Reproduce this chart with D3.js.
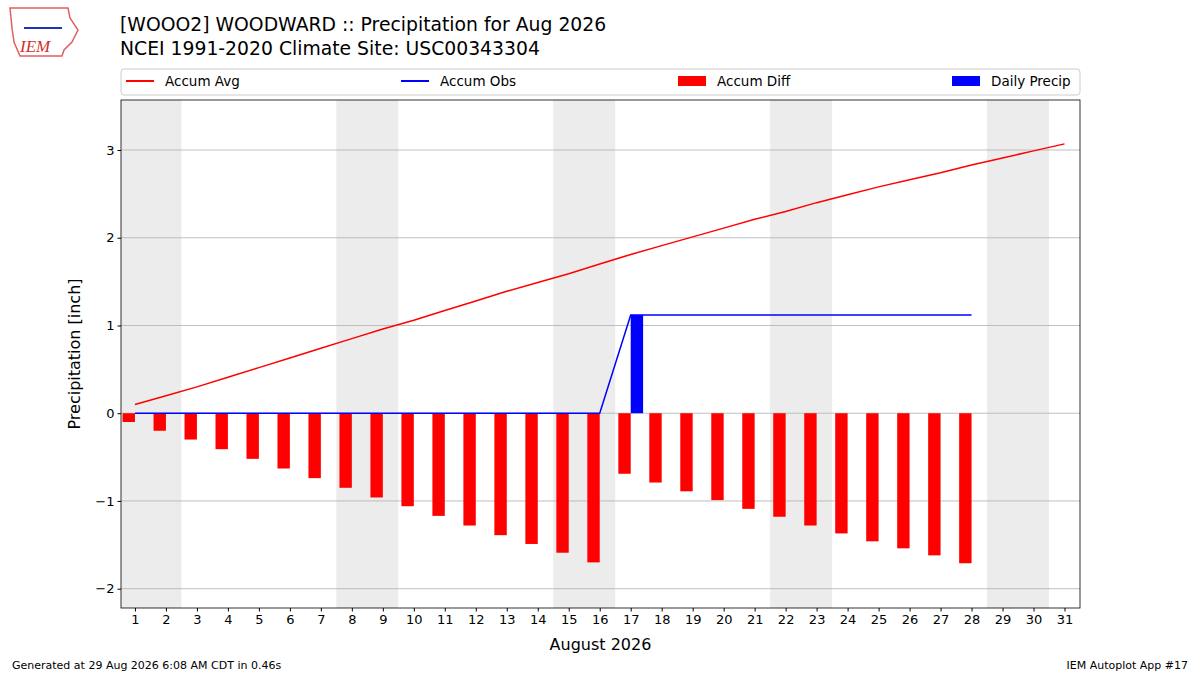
<!DOCTYPE html>
<html><head><meta charset="utf-8">
<script src="https://cdn.jsdelivr.net/npm/d3@7"></script>
<style>body{margin:0;background:#fff}svg{font-family:"DejaVu Sans",sans-serif}</style>
</head><body><svg id="c" width="1200" height="675"></svg>
<script>
const days = d3.range(1,32);
const accumAvg = [0.10,0.20,0.30,0.41,0.52,0.63,0.74,0.85,0.96,1.06,1.17,1.28,1.39,1.49,1.59,1.70,1.81,1.91,2.01,2.11,2.21,2.30,2.40,2.49,2.58,2.66,2.74,2.83,2.91,2.99,3.07];
const accumObs = [0,0,0,0,0,0,0,0,0,0,0,0,0,0,0,0,1.12,1.12,1.12,1.12,1.12,1.12,1.12,1.12,1.12,1.12,1.12,1.12];
const dailyPrecip = [0,0,0,0,0,0,0,0,0,0,0,0,0,0,0,0,1.12,0,0,0,0,0,0,0,0,0,0,0];
const weekends = [[1,2],[8,9],[15,16],[22,23],[29,30]];
const yTicks = [-2,-1,0,1,2,3];

const svg = d3.select("#c");
const L=121,R=1080,T=100,B=608;
const x = d3.scaleLinear().domain([0.55,31.5]).range([L,R]);
const y = d3.scaleLinear().domain([-2.22,3.57]).range([B,T]);
svg.append("defs").append("clipPath").attr("id","cp").append("rect").attr("x",L).attr("y",T).attr("width",R-L).attr("height",B-T);
const g = svg.append("g").attr("clip-path","url(#cp)");
weekends.forEach(w=>g.append("rect").attr("x",x(w[0]-0.5)).attr("y",T).attr("width",x(w[1]+0.5)-x(w[0]-0.5)).attr("height",B-T).attr("fill","#ececec"));
yTicks.forEach(t=>g.append("line").attr("x1",L).attr("x2",R).attr("y1",y(t)).attr("y2",y(t)).attr("stroke","#b0b0b0").attr("stroke-width",0.8));
const bw = x(0.4)-x(0);
accumObs.forEach((o,i)=>{const d=o-accumAvg[i];
  g.append("rect").attr("x",x(i+1)-bw).attr("width",bw).attr("y",y(Math.max(0,d))).attr("height",Math.abs(y(d)-y(0))).attr("fill","red");});
dailyPrecip.forEach((p,i)=>{if(p>0) g.append("rect").attr("x",x(i+1)).attr("width",bw).attr("y",y(p)).attr("height",y(0)-y(p)).attr("fill","blue");});
const line = d3.line().x((d,i)=>x(i+1)).y(d=>y(d));
g.append("path").attr("d",line(accumAvg)).attr("fill","none").attr("stroke","red").attr("stroke-width",1.5);
g.append("path").attr("d",line(accumObs)).attr("fill","none").attr("stroke","blue").attr("stroke-width",1.5);
svg.append("rect").attr("x",L).attr("y",T).attr("width",R-L).attr("height",B-T).attr("fill","none").attr("stroke","#000").attr("stroke-width",0.8);
const xa = svg.append("g").attr("transform",`translate(0,${B})`).call(d3.axisBottom(x).tickValues(days).tickFormat(d3.format("d")).tickSizeOuter(0).tickSize(3.5));
const ya = svg.append("g").attr("transform",`translate(${L},0)`).call(d3.axisLeft(y).tickValues(yTicks).tickFormat(d=>d<0?"\u2212"+(-d):d).tickSizeOuter(0).tickSize(3.5));
[xa,ya].forEach(a=>{a.select(".domain").remove();a.selectAll("text").attr("font-size",13).attr("fill","#000").attr("font-family","DejaVu Sans");});
svg.append("text").attr("x",(L+R)/2).attr("y",650).attr("text-anchor","middle").attr("font-size",16).text("August 2026");
svg.append("text").attr("transform",`translate(80,${(T+B)/2}) rotate(-90)`).attr("text-anchor","middle").attr("font-size",16).text("Precipitation [inch]");
svg.append("text").attr("x",120).attr("y",31).attr("font-size",18.8).text("[WOOO2] WOODWARD :: Precipitation for Aug 2026");
svg.append("text").attr("x",120).attr("y",55).attr("font-size",18.8).text("NCEI 1991-2020 Climate Site: USC00343304");
svg.append("rect").attr("x",L).attr("y",69).attr("width",R-L).attr("height",26).attr("rx",3).attr("fill","#fff").attr("stroke","#ccc");
const leg=[{t:"Accum Avg",c:"red",k:"l",x:126},{t:"Accum Obs",c:"blue",k:"l",x:401},{t:"Accum Diff",c:"red",k:"r",x:678},{t:"Daily Precip",c:"blue",k:"r",x:952}];
leg.forEach(e=>{ if(e.k==="l") svg.append("line").attr("x1",e.x).attr("x2",e.x+28).attr("y1",81).attr("y2",81).attr("stroke",e.c).attr("stroke-width",2);
  else svg.append("rect").attr("x",e.x).attr("y",76).attr("width",28).attr("height",10).attr("fill",e.c);
  svg.append("text").attr("x",e.x+39).attr("y",86).attr("font-size",13.5).text(e.t);});
svg.append("text").attr("x",12).attr("y",669).attr("font-size",11).text("Generated at 29 Aug 2026 6:08 AM CDT in 0.46s");
svg.append("text").attr("x",1188).attr("y",669).attr("font-size",11).attr("text-anchor","end").text("IEM Autoplot App #17");
const lg=svg.append("g");
lg.append("path").attr("d","M10,8 L68,8 L70,18 L78,30 L72,42 L64,50 L62,56 L20,56 L14,42 L12,28 Z").attr("fill","#fff").attr("stroke","#e06060").attr("stroke-width",1.5);
lg.append("line").attr("x1",24).attr("x2",62).attr("y1",28).attr("y2",28).attr("stroke","#2030c0").attr("stroke-width",2);
lg.append("text").attr("x",20).attr("y",52).attr("font-size",17).attr("font-style","italic").attr("font-family","Liberation Serif").attr("fill","#d03030").text("IEM");
</script></body></html>
